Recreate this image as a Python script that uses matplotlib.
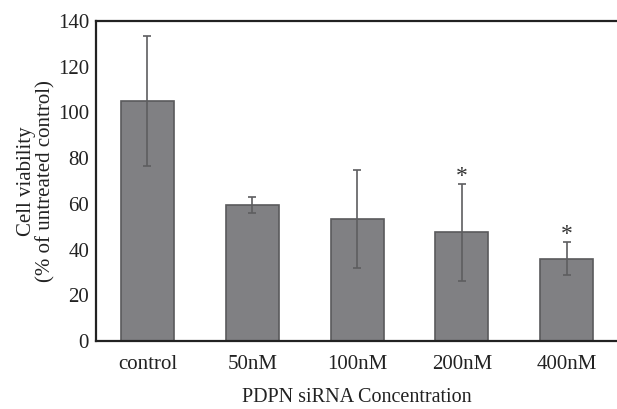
import matplotlib
matplotlib.use("Agg")
import matplotlib.pyplot as plt

categories = ["control", "50nM", "100nM", "200nM", "400nM"]
means = [105.0, 59.5, 53.4, 47.5, 36.0]
errors = [28.4, 3.3, 21.6, 21.3, 7.2]
significant = [False, False, False, True, True]
yticks = [0, 20, 40, 60, 80, 100, 120, 140]

plt.rcParams['font.family'] = ['Liberation Serif', 'DejaVu Serif']

fig = plt.figure(figsize=(6.17, 4.09), dpi=100)
ax = fig.add_axes([96/617, 1 - 341/409, (617-96)/617, 320/409])

x = list(range(len(categories)))
ax.bar(x, means, width=0.506, color="#808083", edgecolor="#5a5a5c", linewidth=1.2, zorder=2)
ax.errorbar(x, means, yerr=errors, fmt="none", ecolor="#5e5e60", elinewidth=1.2,
            capsize=3, capthick=1.2, zorder=3)
for xi, m, e, s in zip(x, means, errors, significant):
    if s:
        ax.text(xi, m + e + 3.2, "*", ha="center", va="center", fontsize=17, color="#333333")

ax.set_xlim(-0.4916, 4.482)
ax.set_ylim(0, 140)
ax.set_yticks(yticks)
ax.set_xticks(x)
ax.set_xticklabels(categories, fontsize=15, color="#222222")
ax.tick_params(axis="y", labelsize=15, length=0, pad=5, colors="#222222")
ax.tick_params(axis="x", length=0, pad=10)
ax.spines["right"].set_visible(False)
for s in ["left", "bottom", "top"]:
    ax.spines[s].set_linewidth(1.6)
    ax.spines[s].set_color("#222222")

ax.set_ylabel("Cell viability\n(% of untreated control)", fontsize=15, color="#222222", labelpad=2,
              linespacing=1.0)
ax.set_xlabel("PDPN siRNA Concentration", fontsize=14.5, color="#222222", labelpad=10)

fig.savefig("out.png", dpi=100)
